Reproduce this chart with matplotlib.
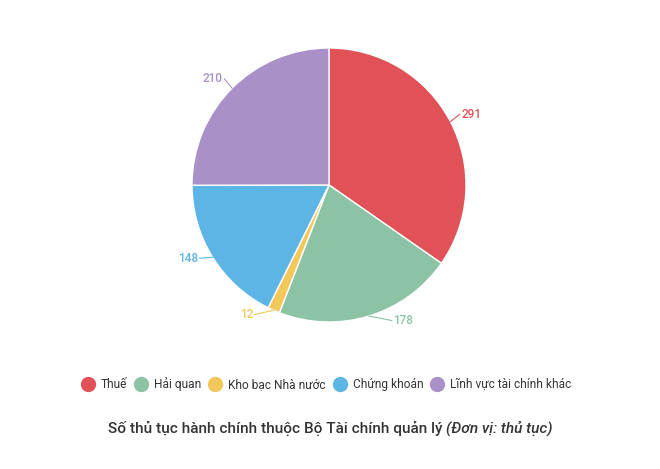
import numpy as np
import matplotlib.pyplot as plt
from matplotlib.lines import Line2D

plt.rcParams['font.family'] = ['Roboto', 'DejaVu Sans']

# =========================
# DATA
# =========================

categories = ["Thuế", "Hải quan", "Kho bạc Nhà nước", "Chứng khoán",
              "Lĩnh vực tài chính khác"]
values = [291, 178, 12, 148, 210]
colors = ["#e05257", "#8cc3a5", "#f2c85b", "#5db5e5", "#a990c8"]

title_main = "Số thủ tục hành chính thuộc Bộ Tài chính quản lý"
title_unit = "(Đơn vị: thủ tục)"

# =========================
# FIGURE
# =========================

W, H = 660, 469
fig = plt.figure(figsize=(W / 100, H / 100), dpi=100)

# pie box in pixels: x 192..466, y 48..322
ax = fig.add_axes([192 / W, 1 - 322 / H, 274 / W, 274 / H])

wedges, _ = ax.pie(
    values,
    colors=colors,
    startangle=90,
    counterclock=False,
    radius=1,
    wedgeprops=dict(edgecolor="white", linewidth=1),
)
ax.set_xlim(-1, 1)
ax.set_ylim(-1, 1)
ax.set_aspect("equal")
ax.axis("off")

# data labels placed round the pie, with thin connectors
for w, v, c in zip(wedges, values, colors):
    mid = np.deg2rad((w.theta1 + w.theta2) / 2)
    x0, y0 = np.cos(mid), np.sin(mid)
    side = 1 if x0 >= 0 else -1
    ly = 1.06 * y0 + 0.025
    lx = side * np.sqrt(1.095 ** 2 - ly ** 2)
    ax.plot([x0, lx - 0.012 * side], [y0, ly], color=c, lw=0.8,
            clip_on=False)
    ax.text(lx, ly, str(v), color=c, fontsize=8.5, fontweight="medium",
            ha="left" if side > 0 else "right", va="center")

# =========================
# LEGEND
# =========================

handles = [
    Line2D([0], [0], marker="o", linestyle="", markersize=10,
           markerfacecolor=c, markeredgecolor=c)
    for c in colors
]
fig.legend(
    handles, categories,
    loc="center", bbox_to_anchor=(0.494, 1 - 384 / H),
    ncol=5, frameon=False, fontsize=8.6,
    handletextpad=0.5, columnspacing=0.55, handlelength=1.2,
    labelcolor="#333333",
)

# =========================
# TITLE
# =========================

t1 = fig.text(0, 1 - 428 / H, title_main + " ", fontsize=11.1,
              color="#333333", ha="left", va="center", fontweight="medium")
t2 = fig.text(0, 1 - 428 / H, title_unit, fontsize=11.1,
              color="#333333", ha="left", va="center", style="italic",
              fontweight="medium")
fig.canvas.draw()
r = fig.canvas.get_renderer()
w1 = t1.get_window_extent(r).width
w2 = t2.get_window_extent(r).width
start = 330 - (w1 + w2) / 2
t1.set_x(start / W)
t2.set_x((start + w1) / W)

fig.savefig("out.png", dpi=100, facecolor="white")
